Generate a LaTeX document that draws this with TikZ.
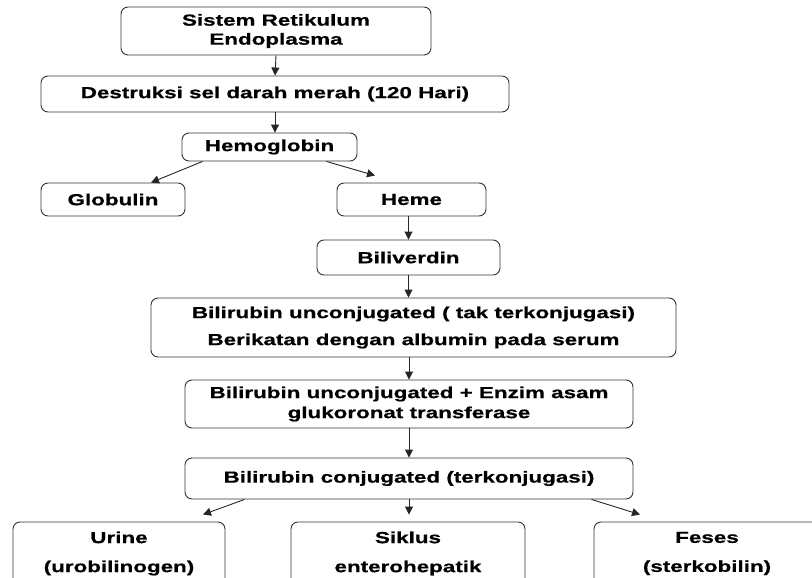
\documentclass[tikz,border=0pt]{standalone}
\usepackage{fontspec}
\setmainfont[FakeStretch=1.4,BoldFeatures={FakeBold=0.6}]{Liberation Sans}
\usetikzlibrary{arrows.meta,calc}
\tikzset{
  box/.style={draw=black!80, line width=0.9pt, rounded corners=7pt, align=center, inner sep=0pt,
    font=\fontsize{16}{19}\selectfont\bfseries},
  arr/.style={draw=black!85, line width=0.9pt, -{Triangle[length=8pt,width=8pt]}},
}
\begin{document}
\begin{tikzpicture}[x=1pt,y=-1pt]
\useasboundingbox (0,0) rectangle (812,578);
\node[box, minimum width=310pt, minimum height=48pt] (sre) at (276,31) {Sistem Retikulum\\Endoplasma};
\node[box, minimum width=468pt, minimum height=36pt] (des) at (275,94) {Destruksi sel darah merah (120 Hari)};
\node[box, minimum width=175pt, minimum height=28pt] (hem) at (269.5,147) {Hemoglobin};
\node[box, minimum width=144pt, minimum height=33pt] (glo) at (113,199.5) {Globulin};
\node[box, minimum width=149pt, minimum height=33pt] (heme) at (411.5,199.5) {Heme};
\node[box, minimum width=183pt, minimum height=35pt] (bil) at (408.5,257.5) {Biliverdin};
\node[box, minimum width=525pt, minimum height=59pt, font=\fontsize{16}{27}\selectfont\bfseries] (unc) at (413.5,327.5) {Bilirubin unconjugated ( tak terkonjugasi)\\Berikatan dengan albumin pada serum};
\node[box, minimum width=448pt, minimum height=48pt, font=\fontsize{16}{20}\selectfont\bfseries] (enz) at (409,404) {Bilirubin unconjugated + Enzim asam\\glukoronat transferase};
\node[box, minimum width=448pt, minimum height=41pt] (con) at (409,478.5) {Bilirubin conjugated (terkonjugasi)};
\node[box, minimum width=212pt, minimum height=63pt, font=\fontsize{16}{29}\selectfont\bfseries] (uri) at (119,553.5) {Urine\\(urobilinogen)};
\node[box, minimum width=234pt, minimum height=63pt, font=\fontsize{16}{29}\selectfont\bfseries] (sik) at (408,553.5) {Siklus\\enterohepatik};
\node[box, minimum width=226pt, minimum height=63pt, font=\fontsize{16}{29}\selectfont\bfseries] (fes) at (707,553.5) {Feses\\(sterkobilin)};

\draw[arr] (sre.south) -- (des.north);
\draw[arr] (des.south) -- (des.south |- hem.north);
\draw[arr] ($(hem.south west)+(21,0)$) -- ($(glo.north)+(38,0)$);
\draw[arr] ($(hem.south east)+(-31,0)$) -- ($(heme.north)+(-36.5,-7)$);
\draw[arr] (bil.north |- heme.south) -- (bil.north);
\draw[arr] (bil.south) -- (bil.south |- unc.north);
\draw[arr] (enz.north |- unc.south) -- (enz.north);
\draw[arr] (enz.south) -- (con.north);
\draw[arr] ($(con.south west)+(60,0)$) -- ($(uri.north)+(84,-7)$);
\draw[arr] (con.south) -- ($(con.south |- sik.north)+(0,-7)$);
\draw[arr] ($(con.south east)+(-42,0)$) -- ($(fes.north)+(-67,-7)$);
\end{tikzpicture}
\end{document}
